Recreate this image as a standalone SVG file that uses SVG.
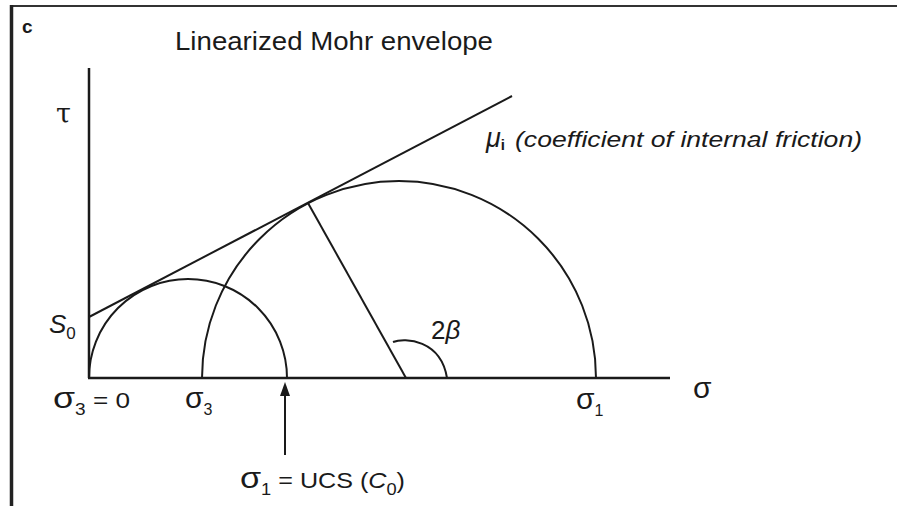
<svg xmlns="http://www.w3.org/2000/svg" width="897" height="506" viewBox="0 0 897 506">
<style>
.ln{fill:none;stroke:#1a1a1a;stroke-width:2}
.ax{fill:none;stroke:#1a1a1a;stroke-width:2.5}
.t{font-family:"Liberation Sans",Arial,sans-serif;fill:#1a1a1a}
.s{font-family:"DejaVu Serif","Liberation Serif",serif;fill:#1a1a1a}
.g{font-size:30px}
</style>
<defs>
<marker id="ah" viewBox="0 0 14 10" refX="1" refY="5" markerWidth="14" markerHeight="10" markerUnits="userSpaceOnUse" orient="auto">
<path d="M0 0 L14 5 L0 10 Z" fill="#1a1a1a"/>
</marker>
</defs>
<rect width="897" height="506" fill="#fff"/>
<g id="frame">
<line x1="10" y1="6" x2="897" y2="6" stroke="#333" stroke-width="2"/>
<line x1="11.5" y1="5" x2="11.5" y2="506" stroke="#222" stroke-width="3.5"/>
</g>
<g id="axes">
<line class="ax" x1="89" y1="68" x2="89" y2="378"/>
<line class="ax" x1="88" y1="378" x2="670" y2="378"/>
</g>
<g id="circles">
<path class="ln" d="M89 378 A99 99 0 0 1 287 378"/>
<path class="ln" d="M202 378 A197 197 0 0 1 596 378"/>
</g>
<g id="connectors">
<line class="ln" x1="89" y1="317" x2="512" y2="96"/>
<line class="ln" x1="308" y1="203" x2="406" y2="378"/>
<path class="ln" d="M393 342 C405 337,441 340,447 378"/>
<line class="ln" x1="285" y1="455" x2="285" y2="395" marker-end="url(#ah)"/>
</g>
<g id="labels">
<text class="t" x="22" y="33" font-size="19" font-weight="bold">c</text>
<text class="t" x="175" y="50" font-size="26" textLength="318" lengthAdjust="spacingAndGlyphs">Linearized Mohr envelope</text>
<text class="s" x="56" y="123" font-size="27">τ</text>
<text class="t" x="486" y="147" font-size="27" font-style="italic">μ<tspan font-size="15" font-style="normal" font-weight="bold" dy="3">i</tspan></text>
<text class="t" x="515" y="147" font-size="22" font-style="italic" textLength="347" lengthAdjust="spacingAndGlyphs">(coefficient of internal friction)</text>
<text class="t" x="49" y="333" font-size="26" font-style="italic">S<tspan font-size="17" font-style="normal" dy="6">0</tspan></text>
<text class="t" x="431" y="339" font-size="26">2<tspan font-style="italic">β</tspan></text>
<text class="t" x="53" y="408" font-size="22" textLength="77" lengthAdjust="spacingAndGlyphs"><tspan class="g">σ</tspan><tspan font-size="16" dy="7">3</tspan><tspan dy="-7"> = 0</tspan></text>
<text class="t" x="185" y="408" font-size="30">σ<tspan font-size="16" dy="7">3</tspan></text>
<text class="t" x="576" y="409" font-size="30">σ<tspan font-size="16" dy="7">1</tspan></text>
<text class="t" x="693" y="398" font-size="30">σ</text>
<text class="t" x="240" y="488" font-size="22" textLength="165" lengthAdjust="spacingAndGlyphs"><tspan class="g">σ</tspan><tspan font-size="16" dy="7">1</tspan><tspan dy="-7"> = UCS (</tspan><tspan font-style="italic">C</tspan><tspan font-size="16" dy="7">0</tspan><tspan dy="-7">)</tspan></text>
</g>
</svg>
